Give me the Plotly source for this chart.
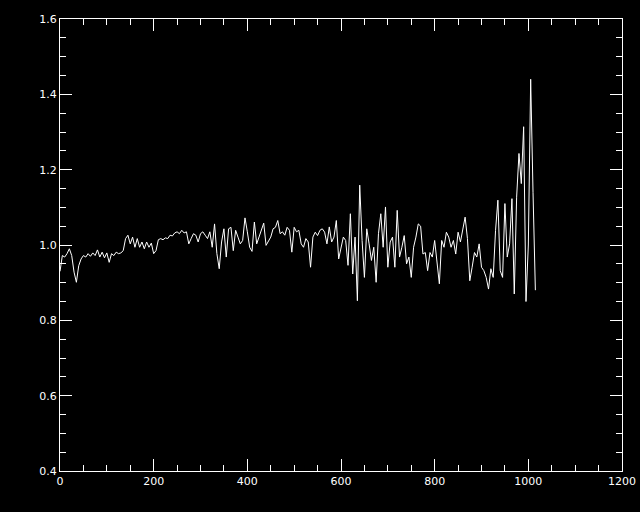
import plotly.graph_objects as go

# sample positions (x units)
x_values = list(range(0, 1016, 5))

# y values, segment by segment
seg1 = [0.93, 0.972, 0.968, 0.977, 0.99, 0.972, 0.928, 0.901, 0.945, 0.963,
        0.972, 0.968, 0.977, 0.970, 0.979, 0.972, 0.987, 0.968, 0.981, 0.966,
        0.979, 0.954, 0.977, 0.972, 0.981, 0.977, 0.979, 0.985, 1.017, 1.026,
        1.003, 1.021, 0.994, 1.017, 0.994, 1.008, 0.99, 1.008, 0.994, 1.005,
        0.977, 0.985, 1.014, 1.017, 1.014, 1.019, 1.017, 1.026, 1.024, 1.032,
        1.035]
seg2 = [1.030, 1.039, 1.032, 1.035, 1.003, 1.017, 1.030, 1.026, 1.008, 1.030,
        1.035, 1.026, 1.017, 1.035, 0.994, 1.056, 0.977, 0.937, 1.008, 1.043,
        0.968, 1.043, 1.047, 0.985, 1.039, 1.021, 1.003, 1.012, 1.072, 1.035,
        0.994, 0.983, 1.061, 1.003, 1.021, 1.039, 1.058, 0.999, 1.012, 1.021,
        1.043, 1.047, 1.065, 1.030, 1.035, 1.026, 1.047, 1.039, 0.981, 1.047,
        1.035, 1.039]
seg3 = [1.003, 0.994, 1.017, 1.008, 0.941, 1.021, 1.034, 1.025, 1.039, 1.043,
        1.034, 1.003, 1.048, 1.008, 1.021, 1.065, 0.963, 0.990, 1.021, 1.012,
        0.946, 1.083, 0.923, 1.021, 0.852, 1.159, 1.012, 0.914, 1.043, 1.003,
        0.959, 0.994, 0.901, 1.030, 1.083, 0.994, 1.101, 0.941, 1.008, 1.021,
        0.941, 1.092, 0.968, 0.994, 1.025, 0.950, 0.968, 0.914, 0.994, 1.021,
        1.056]
seg4 = [1.05, 0.976, 0.98, 0.932, 0.98, 0.968, 1.012, 0.950, 0.897, 1.012,
        0.994, 1.034, 1.021, 0.994, 1.012, 0.976, 1.034, 1.008, 1.039, 1.074,
        1.017, 0.905, 0.941, 0.98, 0.968, 1.003, 0.941, 0.932, 0.914, 0.883,
        0.937, 0.914, 1.039, 1.119, 0.932, 0.914, 1.110, 0.968, 1.003, 1.123,
        0.87, 1.127, 1.243, 1.163, 1.314, 0.85, 1.00, 1.44, 1.14, 0.88]
y_values = seg1 + seg2 + seg3 + seg4

x_ticks = [0, 200, 400, 600, 800, 1000, 1200]
x_tick_labels = ["0", "200", "400", "600", "800", "1000", "1200"]
y_ticks = [0.4, 0.6, 0.8, 1.0, 1.2, 1.4, 1.6]
y_tick_labels = ["0.4", "0.6", "0.8", "1.0", "1.2", "1.4", "1.6"]

fig = go.Figure()
fig.add_trace(go.Scatter(x=x_values, y=y_values, mode="lines",
                         line=dict(color="white", width=1), showlegend=False))

axis_common = dict(
    showgrid=False, zeroline=False, showline=True, linecolor="white", linewidth=1,
    mirror="ticks", ticks="inside", ticklen=12, tickcolor="white", tickwidth=1,
    tickfont=dict(family="DejaVu Sans", size=11, color="white"),
    automargin=False,
)
fig.update_xaxes(range=[0, 1200], tickvals=x_ticks, ticktext=x_tick_labels,
                 minor=dict(dtick=50, tick0=0, ticks="inside", ticklen=6, tickcolor="white", showgrid=False),
                 **axis_common)
fig.update_yaxes(range=[0.4, 1.6], tickvals=y_ticks, ticktext=y_tick_labels,
                 minor=dict(dtick=0.05, tick0=0.4, ticks="inside", ticklen=6, tickcolor="white", showgrid=False),
                 **axis_common)
fig.update_layout(width=640, height=512, autosize=False,
                  paper_bgcolor="black", plot_bgcolor="black",
                  margin=dict(l=60, r=18, t=19, b=41))
fig.write_html("out.html", config={"displayModeBar": False},
               post_script="document.body.style.margin='0';document.body.style.background='black';document.body.style.overflow='hidden';")
